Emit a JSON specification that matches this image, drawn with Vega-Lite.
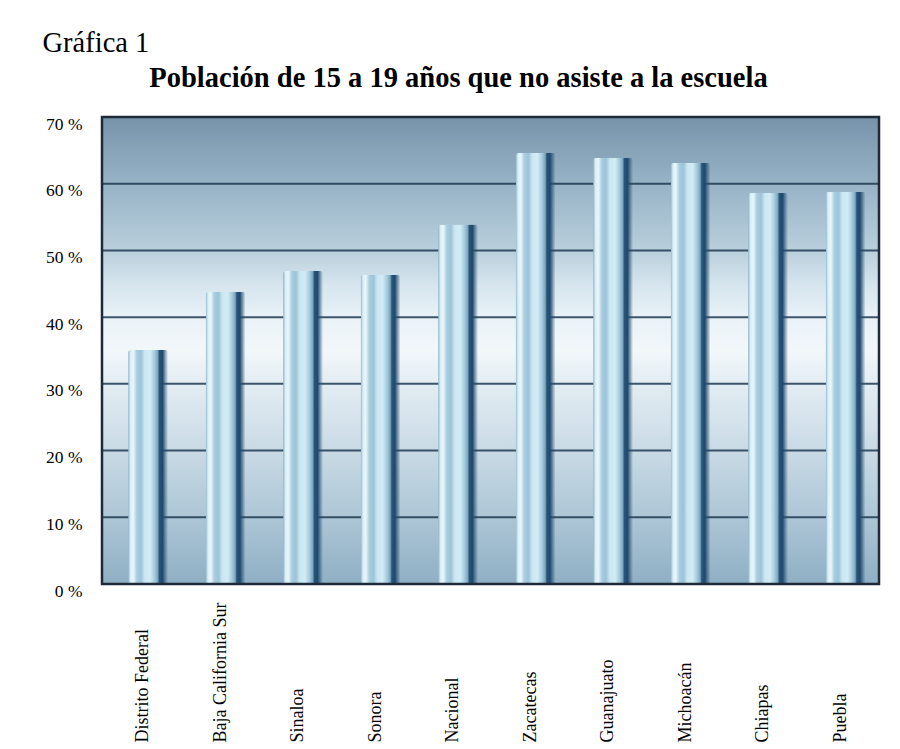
{
  "$schema": "https://vega.github.io/schema/vega-lite/v6.json",
  "autosize": {"type": "none"},
  "width": 777,
  "height": 467,
  "padding": {"left": 102, "top": 117, "right": 21, "bottom": 165},
  "background": "white",
  "config": {"view": {"stroke": null}, "font": "Liberation Serif"},
  "title": {
    "text": "Población de 15 a 19 años que no asiste a la escuela",
    "font": "Liberation Serif",
    "fontSize": 28.5,
    "fontWeight": "bold",
    "color": "black",
    "anchor": "middle",
    "frame": "group",
    "baseline": "alphabetic",
    "dx": -32,
    "offset": -87
  },
  "datasets": {
    "bars": [
      {"estado": "Distrito Federal", "pct": 35.1},
      {"estado": "Baja California Sur", "pct": 43.8},
      {"estado": "Sinaloa", "pct": 46.9},
      {"estado": "Sonora", "pct": 46.3},
      {"estado": "Nacional", "pct": 53.9},
      {"estado": "Zacatecas", "pct": 64.6},
      {"estado": "Guanajuato", "pct": 63.9},
      {"estado": "Michoacán", "pct": 63.1},
      {"estado": "Chiapas", "pct": 58.6},
      {"estado": "Puebla", "pct": 58.8}
    ],
    "frame": [{"lo": 0, "hi": 70}],
    "grid": [{"g": 10}, {"g": 20}, {"g": 30}, {"g": 40}, {"g": 50}, {"g": 60}]
  },
  "layer": [
    {
      "data": {"name": "frame"},
      "mark": {
        "type": "rect",
        "color": {
          "gradient": "linear", "x1": 0, "y1": 0, "x2": 0, "y2": 1,
          "stops": [
            {"offset": 0, "color": "#7793aa"},
            {"offset": 0.143, "color": "#97b3c6"},
            {"offset": 0.286, "color": "#b9cfdc"},
            {"offset": 0.36, "color": "#d6e5ee"},
            {"offset": 0.43, "color": "#e9f2f7"},
            {"offset": 0.5, "color": "#f2f7fa"},
            {"offset": 0.57, "color": "#e3edf3"},
            {"offset": 0.714, "color": "#c9dae5"},
            {"offset": 0.857, "color": "#adc6d6"},
            {"offset": 1, "color": "#8fafc4"}
          ]
        }
      },
      "encoding": {
        "y": {"field": "lo", "type": "quantitative", "scale": {"domain": [0, 70]},
          "axis": {
            "values": [0, 10, 20, 30, 40, 50, 60, 70],
            "labelExpr": "datum.value + ' %'",
            "grid": false, "domain": false, "ticks": false,
            "labelPadding": 20, "labelFont": "Liberation Serif", "labelFontSize": 17.5,
            "labelColor": "black", "labelBaseline": "middle", "labelOffset": 7,
            "title": "Gráfica 1", "titleAngle": 0, "titleAlign": "left",
            "titleBaseline": "alphabetic", "titleX": -60, "titleY": -66,
            "titleFont": "Liberation Serif", "titleFontSize": 28.5,
            "titleFontWeight": "normal", "titleColor": "black"
          }
        },
        "y2": {"field": "hi"}
      }
    },
    {
      "data": {"name": "grid"},
      "mark": {"type": "rule", "color": "#1f3850", "strokeWidth": 2, "opacity": 0.85},
      "encoding": {"y": {"field": "g", "type": "quantitative"}}
    },
    {
      "data": {"name": "bars"},
      "mark": {
        "type": "bar",
        "cornerRadiusTopLeft": 3,
        "cornerRadiusTopRight": 3,
        "color": {
          "gradient": "linear", "x1": 0, "y1": 0, "x2": 1, "y2": 0,
          "stops": [
            {"offset": 0, "color": "#8db2c6"},
            {"offset": 0.06, "color": "#d9eef6"},
            {"offset": 0.13, "color": "#eaf7fb"},
            {"offset": 0.22, "color": "#a9cde0"},
            {"offset": 0.32, "color": "#9cc3d7"},
            {"offset": 0.42, "color": "#cbe7f2"},
            {"offset": 0.55, "color": "#d2ecf5"},
            {"offset": 0.66, "color": "#a6cbdd"},
            {"offset": 0.74, "color": "#7da7c0"},
            {"offset": 0.78, "color": "#2a5578"},
            {"offset": 0.86, "color": "#1f4a6e"},
            {"offset": 1, "color": "rgba(40,80,115,0)"}
          ]
        }
      },
      "encoding": {
        "x": {
          "field": "estado", "type": "nominal", "sort": null,
          "scale": {"paddingInner": 0.484, "paddingOuter": 0.255, "align": 0.66},
          "axis": {
            "title": null, "domain": false, "ticks": false,
            "labelAngle": -90, "labelAlign": "left", "labelBaseline": "middle",
            "labelPadding": 158, "labelOffset": -5,
            "labelFont": "Liberation Serif", "labelFontSize": 18, "labelColor": "black",
            "labelLimit": 300
          }
        },
        "y": {"field": "pct", "type": "quantitative"}
      }
    },
    {
      "data": {"name": "frame"},
      "mark": {"type": "rect", "fill": null, "stroke": "#1d2a38", "strokeWidth": 2.5},
      "encoding": {
        "y": {"field": "lo", "type": "quantitative"},
        "y2": {"field": "hi"}
      }
    }
  ]
}
